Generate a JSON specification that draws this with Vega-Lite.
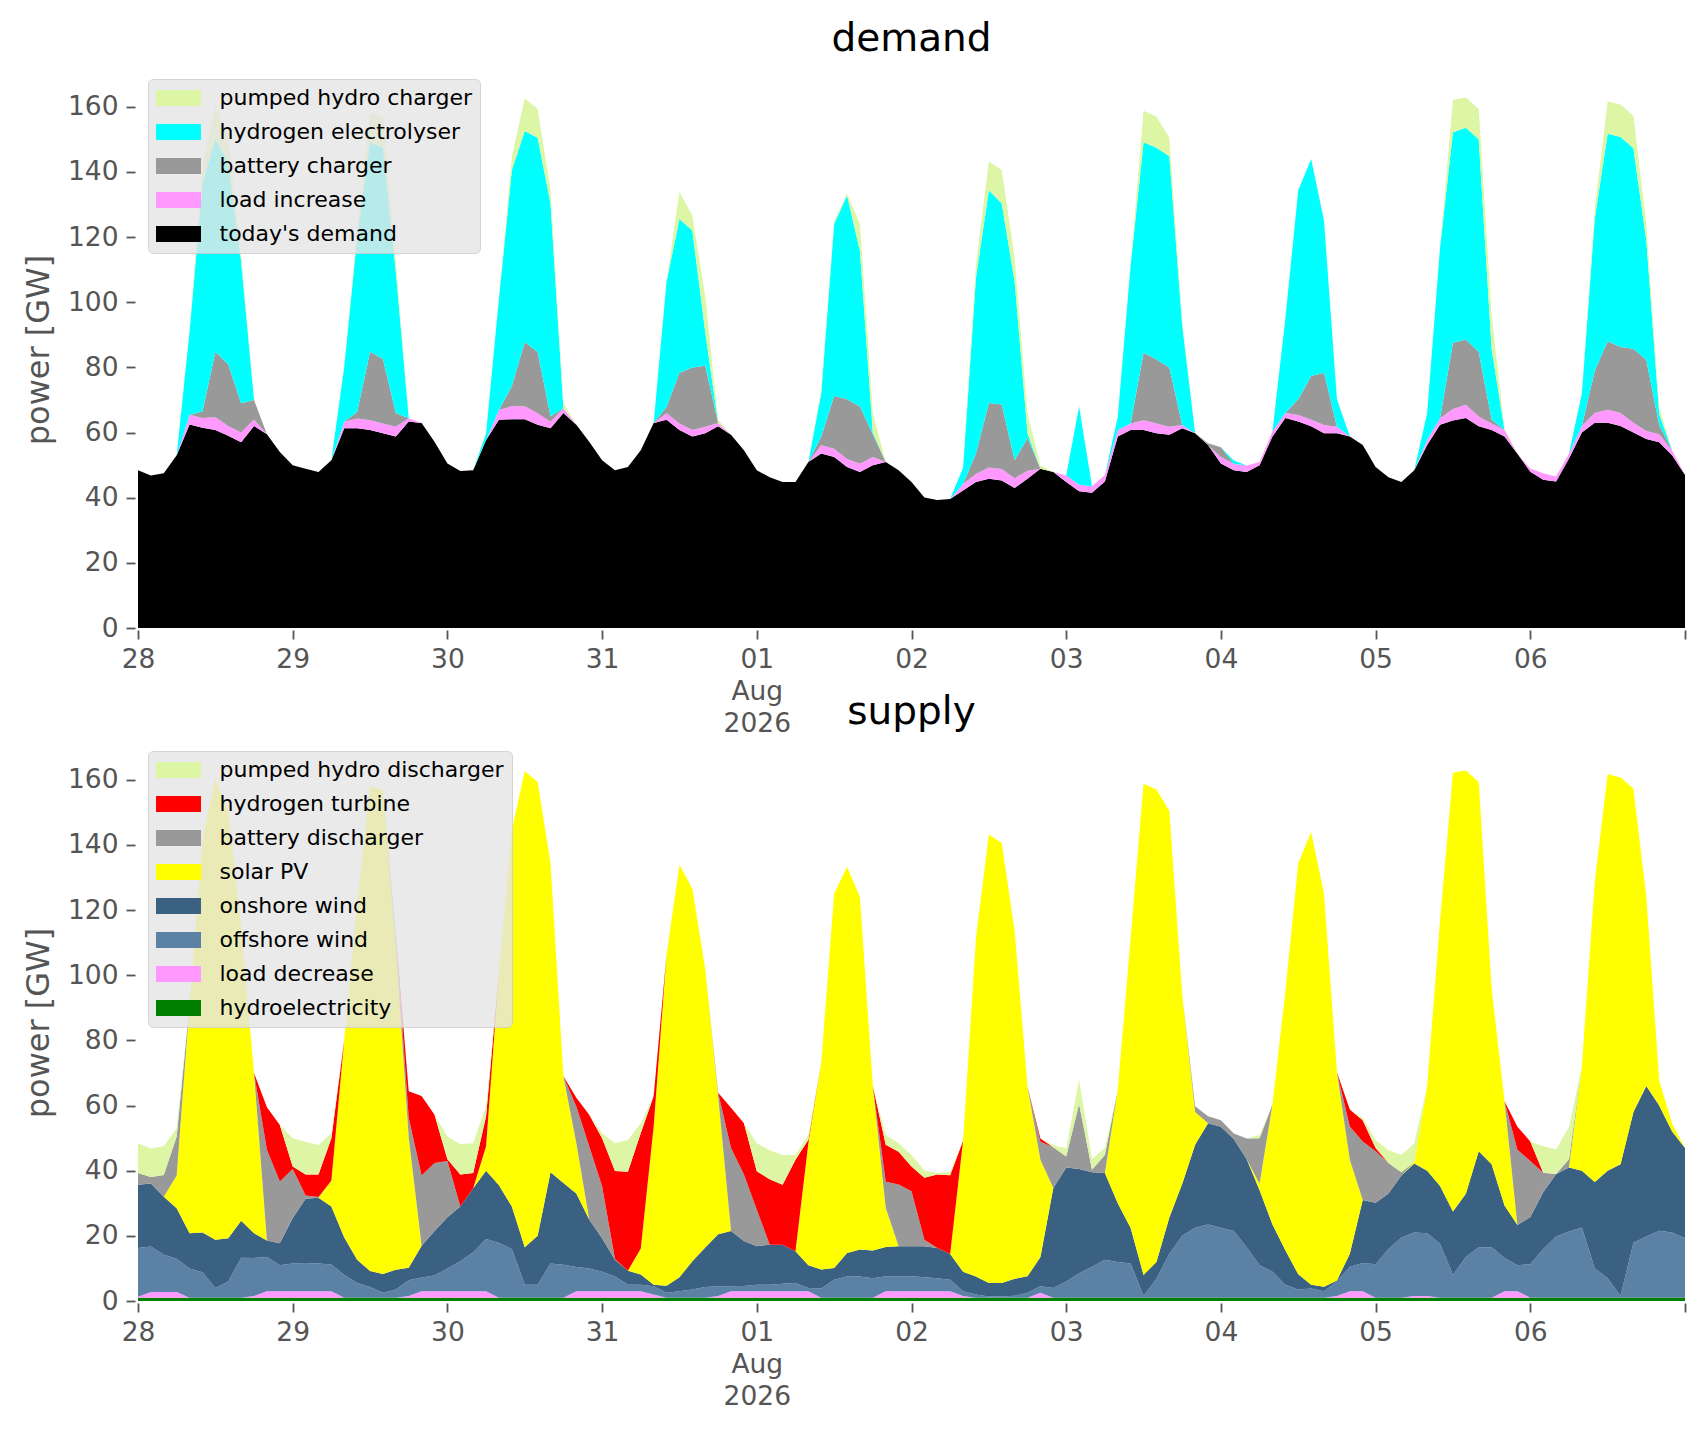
{
  "$schema": "https://vega.github.io/schema/vega-lite/v6.json",
  "background": "white",
  "padding": {"left": 22, "top": 20, "right": 21, "bottom": 24},
  "datasets": {
    "demand": [
      {"t":"2026-07-28T00:00","a":48.4,"b":0,"c":0,"d":0,"e":0},
      {"t":"2026-07-28T02:00","a":46.8,"b":0,"c":0,"d":0,"e":0},
      {"t":"2026-07-28T04:00","a":47.5,"b":0,"c":0,"d":0,"e":0},
      {"t":"2026-07-28T06:00","a":53,"b":0,"c":0,"d":0,"e":0},
      {"t":"2026-07-28T08:00","a":62.5,"b":3,"c":0,"d":25.5,"e":0},
      {"t":"2026-07-28T10:00","a":61.5,"b":3,"c":2,"d":70,"e":5},
      {"t":"2026-07-28T12:00","a":60.8,"b":3.9,"c":20,"d":65.6,"e":10},
      {"t":"2026-07-28T14:00","a":59,"b":3,"c":19,"d":61.7,"e":8},
      {"t":"2026-07-28T16:00","a":57,"b":3,"c":9,"d":43.6,"e":2},
      {"t":"2026-07-28T18:00","a":62,"b":2,"c":6,"d":0,"e":0},
      {"t":"2026-07-28T20:00","a":59.5,"b":0,"c":0,"d":0,"e":0},
      {"t":"2026-07-28T22:00","a":54,"b":0,"c":0,"d":0,"e":0},
      {"t":"2026-07-29T00:00","a":50,"b":0,"c":0,"d":0,"e":0},
      {"t":"2026-07-29T02:00","a":48.9,"b":0,"c":0,"d":0,"e":0},
      {"t":"2026-07-29T04:00","a":47.9,"b":0,"c":0,"d":0,"e":0},
      {"t":"2026-07-29T06:00","a":51.5,"b":0,"c":0,"d":0,"e":0},
      {"t":"2026-07-29T08:00","a":61.3,"b":2,"c":0,"d":17,"e":0},
      {"t":"2026-07-29T10:00","a":61.3,"b":3,"c":2,"d":53.7,"e":2},
      {"t":"2026-07-29T12:00","a":60.8,"b":3,"c":21,"d":64.3,"e":9},
      {"t":"2026-07-29T14:00","a":59.8,"b":3,"c":19.8,"d":64.8,"e":9.3},
      {"t":"2026-07-29T16:00","a":58.8,"b":3,"c":4.2,"d":43.5,"e":3},
      {"t":"2026-07-29T18:00","a":63.4,"b":1,"c":0,"d":0,"e":0},
      {"t":"2026-07-29T20:00","a":62.9,"b":0,"c":0,"d":0,"e":0},
      {"t":"2026-07-29T22:00","a":57.2,"b":0,"c":0,"d":0,"e":0},
      {"t":"2026-07-30T00:00","a":50.5,"b":0,"c":0,"d":0,"e":0},
      {"t":"2026-07-30T02:00","a":48.2,"b":0,"c":0,"d":0,"e":0},
      {"t":"2026-07-30T04:00","a":48.4,"b":0,"c":0,"d":0,"e":0},
      {"t":"2026-07-30T06:00","a":57.7,"b":0,"c":0,"d":2,"e":0},
      {"t":"2026-07-30T08:00","a":63.9,"b":3,"c":0,"d":34.3,"e":0},
      {"t":"2026-07-30T10:00","a":64.1,"b":4,"c":6.2,"d":66.3,"e":4},
      {"t":"2026-07-30T12:00","a":64.1,"b":4,"c":19.7,"d":64.8,"e":10},
      {"t":"2026-07-30T14:00","a":62.4,"b":3.5,"c":18.8,"d":65.8,"e":8.8},
      {"t":"2026-07-30T16:00","a":61.3,"b":2,"c":1.7,"d":65.3,"e":4},
      {"t":"2026-07-30T18:00","a":66,"b":1.5,"c":0,"d":0,"e":1.5},
      {"t":"2026-07-30T20:00","a":62.4,"b":0,"c":0,"d":0,"e":0},
      {"t":"2026-07-30T22:00","a":57.2,"b":0,"c":0,"d":0,"e":0},
      {"t":"2026-07-31T00:00","a":51.5,"b":0,"c":0,"d":0,"e":0},
      {"t":"2026-07-31T02:00","a":48.4,"b":0,"c":0,"d":0,"e":0},
      {"t":"2026-07-31T04:00","a":49.4,"b":0,"c":0,"d":0,"e":0},
      {"t":"2026-07-31T06:00","a":54.6,"b":0,"c":0,"d":0,"e":0},
      {"t":"2026-07-31T08:00","a":62.9,"b":0,"c":0,"d":0,"e":0},
      {"t":"2026-07-31T10:00","a":63.9,"b":2,"c":2,"d":38.5,"e":0},
      {"t":"2026-07-31T12:00","a":60.8,"b":2,"c":15.6,"d":47.2,"e":8.3},
      {"t":"2026-07-31T14:00","a":58.8,"b":2,"c":19.2,"d":42,"e":4.6},
      {"t":"2026-07-31T16:00","a":59.8,"b":2,"c":18.7,"d":10.4,"e":11},
      {"t":"2026-07-31T18:00","a":61.9,"b":1,"c":0,"d":0,"e":1},
      {"t":"2026-07-31T20:00","a":59.3,"b":0,"c":0,"d":0,"e":0},
      {"t":"2026-07-31T22:00","a":54.6,"b":0,"c":0,"d":0,"e":0},
      {"t":"2026-08-01T00:00","a":48.4,"b":0,"c":0,"d":0,"e":0},
      {"t":"2026-08-01T02:00","a":46.3,"b":0,"c":0,"d":0,"e":0},
      {"t":"2026-08-01T04:00","a":44.8,"b":0,"c":0,"d":0,"e":0},
      {"t":"2026-08-01T06:00","a":44.8,"b":0,"c":0,"d":0,"e":0},
      {"t":"2026-08-01T08:00","a":51,"b":0,"c":0,"d":0,"e":0},
      {"t":"2026-08-01T10:00","a":53.6,"b":2.5,"c":2.7,"d":13.4,"e":1},
      {"t":"2026-08-01T12:00","a":52.5,"b":2.5,"c":16.2,"d":52.8,"e":1},
      {"t":"2026-08-01T14:00","a":49.4,"b":2.5,"c":18.3,"d":62.6,"e":0.5},
      {"t":"2026-08-01T16:00","a":47.9,"b":2.5,"c":17.6,"d":47.8,"e":8.2},
      {"t":"2026-08-01T18:00","a":50,"b":2.5,"c":7,"d":0.5,"e":6},
      {"t":"2026-08-01T20:00","a":51,"b":0,"c":0,"d":0,"e":0},
      {"t":"2026-08-01T22:00","a":48.4,"b":0,"c":0,"d":0,"e":0},
      {"t":"2026-08-02T00:00","a":44.8,"b":0,"c":0,"d":0,"e":0},
      {"t":"2026-08-02T02:00","a":40.1,"b":0,"c":0,"d":0,"e":0},
      {"t":"2026-08-02T04:00","a":39.3,"b":0,"c":0,"d":0,"e":0},
      {"t":"2026-08-02T06:00","a":39.6,"b":0,"c":0,"d":0,"e":0},
      {"t":"2026-08-02T08:00","a":42.2,"b":2,"c":0,"d":5,"e":0},
      {"t":"2026-08-02T10:00","a":44.8,"b":2.5,"c":6.3,"d":53.9,"e":4},
      {"t":"2026-08-02T12:00","a":45.8,"b":3.5,"c":19.8,"d":65.3,"e":8.8},
      {"t":"2026-08-02T14:00","a":45.3,"b":3.5,"c":19.8,"d":61.7,"e":10.3},
      {"t":"2026-08-02T16:00","a":43,"b":3,"c":5.5,"d":54.9,"e":7.3},
      {"t":"2026-08-02T18:00","a":45.8,"b":2.5,"c":10,"d":1.5,"e":6},
      {"t":"2026-08-02T20:00","a":48.9,"b":0,"c":0,"d":0,"e":1},
      {"t":"2026-08-02T22:00","a":47.9,"b":0,"c":0,"d":0,"e":0},
      {"t":"2026-08-03T00:00","a":44.8,"b":2,"c":0,"d":0,"e":0},
      {"t":"2026-08-03T02:00","a":42,"b":2,"c":0,"d":24,"e":0},
      {"t":"2026-08-03T04:00","a":41.5,"b":2,"c":0,"d":0,"e":0},
      {"t":"2026-08-03T06:00","a":45,"b":2,"c":0,"d":0,"e":0},
      {"t":"2026-08-03T08:00","a":58.8,"b":2,"c":0,"d":4,"e":0},
      {"t":"2026-08-03T10:00","a":60.8,"b":2,"c":0,"d":48.7,"e":0},
      {"t":"2026-08-03T12:00","a":60.8,"b":3,"c":20.7,"d":64.6,"e":9.7},
      {"t":"2026-08-03T14:00","a":59.8,"b":3,"c":19.6,"d":65,"e":9.6},
      {"t":"2026-08-03T16:00","a":59.3,"b":2.5,"c":18.2,"d":64.8,"e":5.7},
      {"t":"2026-08-03T18:00","a":61.3,"b":1,"c":0,"d":30.6,"e":1},
      {"t":"2026-08-03T20:00","a":59.8,"b":0,"c":0,"d":0,"e":0},
      {"t":"2026-08-03T22:00","a":56.2,"b":0,"c":0.5,"d":0,"e":0},
      {"t":"2026-08-04T00:00","a":50.5,"b":2,"c":3,"d":0,"e":0},
      {"t":"2026-08-04T02:00","a":48.4,"b":2,"c":0,"d":1,"e":0},
      {"t":"2026-08-04T04:00","a":47.9,"b":2,"c":0,"d":0,"e":0},
      {"t":"2026-08-04T06:00","a":50,"b":1,"c":0,"d":0,"e":0},
      {"t":"2026-08-04T08:00","a":58.8,"b":1.5,"c":0,"d":0,"e":0},
      {"t":"2026-08-04T10:00","a":64.5,"b":1.5,"c":0,"d":29,"e":0},
      {"t":"2026-08-04T12:00","a":63.4,"b":2,"c":4.8,"d":64.2,"e":0},
      {"t":"2026-08-04T14:00","a":61.9,"b":2,"c":13.5,"d":66.6,"e":0},
      {"t":"2026-08-04T16:00","a":59.8,"b":2.5,"c":16.1,"d":46.6,"e":0},
      {"t":"2026-08-04T18:00","a":59.8,"b":2,"c":0,"d":8.4,"e":0},
      {"t":"2026-08-04T20:00","a":58.8,"b":0,"c":0,"d":0,"e":0},
      {"t":"2026-08-04T22:00","a":56.2,"b":0,"c":0,"d":0,"e":0},
      {"t":"2026-08-05T00:00","a":49.4,"b":0,"c":0,"d":0,"e":0},
      {"t":"2026-08-05T02:00","a":46.3,"b":0,"c":0,"d":0,"e":0},
      {"t":"2026-08-05T04:00","a":44.8,"b":0,"c":0,"d":0,"e":0},
      {"t":"2026-08-05T06:00","a":48.4,"b":0,"c":0,"d":0,"e":0},
      {"t":"2026-08-05T08:00","a":56.2,"b":1.5,"c":0,"d":8.3,"e":0},
      {"t":"2026-08-05T10:00","a":62.4,"b":2,"c":0,"d":52.4,"e":0},
      {"t":"2026-08-05T12:00","a":63.7,"b":3.5,"c":20.4,"d":64.6,"e":10},
      {"t":"2026-08-05T14:00","a":64.5,"b":4,"c":20.1,"d":65,"e":9.3},
      {"t":"2026-08-05T16:00","a":61.9,"b":3,"c":19.8,"d":65.3,"e":9.3},
      {"t":"2026-08-05T18:00","a":60.8,"b":2,"c":1.2,"d":21.7,"e":10.3},
      {"t":"2026-08-05T20:00","a":58.8,"b":2,"c":0,"d":0,"e":0.5},
      {"t":"2026-08-05T22:00","a":53.5,"b":0,"c":0,"d":0,"e":0},
      {"t":"2026-08-06T00:00","a":48,"b":1,"c":0,"d":0,"e":0},
      {"t":"2026-08-06T02:00","a":45.5,"b":2,"c":0,"d":0,"e":0},
      {"t":"2026-08-06T04:00","a":45,"b":1.5,"c":0,"d":0,"e":0},
      {"t":"2026-08-06T06:00","a":52,"b":1.5,"c":0,"d":0,"e":0},
      {"t":"2026-08-06T08:00","a":60,"b":2,"c":0,"d":10,"e":0},
      {"t":"2026-08-06T10:00","a":63,"b":3,"c":13,"d":46.7,"e":3},
      {"t":"2026-08-06T12:00","a":63,"b":4,"c":21,"d":63.7,"e":10},
      {"t":"2026-08-06T14:00","a":62,"b":4,"c":20.3,"d":64.4,"e":10},
      {"t":"2026-08-06T16:00","a":60,"b":3,"c":22.7,"d":61.6,"e":10},
      {"t":"2026-08-06T18:00","a":58,"b":2.5,"c":21.8,"d":36.7,"e":5},
      {"t":"2026-08-06T20:00","a":57,"b":2.5,"c":2.8,"d":3.4,"e":2},
      {"t":"2026-08-06T22:00","a":53,"b":1.5,"c":0,"d":0,"e":0},
      {"t":"2026-08-07T00:00","a":47,"b":0,"c":0,"d":0,"e":0}
    ],
    "supply": [
      {"t":"2026-07-28T00:00","a":1,"b":0.3,"c":15,"d":19.4,"e":0,"f":3.6,"g":0,"h":9.1},
      {"t":"2026-07-28T02:00","a":1,"b":1.8,"c":13.9,"d":19.4,"e":0,"f":2,"g":0,"h":8.7},
      {"t":"2026-07-28T04:00","a":1,"b":1.8,"c":11.4,"d":17.8,"e":0,"f":6.7,"g":0,"h":8.8},
      {"t":"2026-07-28T06:00","a":1,"b":1.8,"c":10.2,"d":15.5,"e":10,"f":12,"g":0,"h":2.5},
      {"t":"2026-07-28T08:00","a":1,"b":0,"c":9,"d":10.8,"e":70.2,"f":0,"g":0,"h":0},
      {"t":"2026-07-28T10:00","a":1,"b":0,"c":7.8,"d":12.2,"e":120.5,"f":0,"g":0,"h":0},
      {"t":"2026-07-28T12:00","a":1,"b":0,"c":3,"d":14.8,"e":141.5,"f":0,"g":0,"h":0},
      {"t":"2026-07-28T14:00","a":1,"b":0,"c":5,"d":13.3,"e":131.4,"f":0,"g":0,"h":0},
      {"t":"2026-07-28T16:00","a":1,"b":0,"c":12.3,"d":11.3,"e":90,"f":0,"g":0,"h":0},
      {"t":"2026-07-28T18:00","a":1,"b":0.5,"c":11.7,"d":7.6,"e":49.2,"f":0,"g":0,"h":0},
      {"t":"2026-07-28T20:00","a":1,"b":2,"c":10.5,"d":5.1,"e":0,"f":27.8,"g":13.1,"h":0},
      {"t":"2026-07-28T22:00","a":1,"b":2,"c":8,"d":6.7,"e":0,"f":19,"g":17.3,"h":0},
      {"t":"2026-07-29T00:00","a":1,"b":2,"c":8.5,"d":14,"e":0,"f":15,"g":0.8,"h":8.7},
      {"t":"2026-07-29T02:00","a":1,"b":2,"c":8.7,"d":19.7,"e":0,"f":1,"g":6.4,"h":10.1},
      {"t":"2026-07-29T04:00","a":1,"b":2,"c":8.5,"d":20.2,"e":0,"f":0.2,"g":6.9,"h":9.1},
      {"t":"2026-07-29T06:00","a":1,"b":2,"c":8.2,"d":17.8,"e":8,"f":0,"g":13,"h":1.5},
      {"t":"2026-07-29T08:00","a":1,"b":0,"c":7,"d":11.5,"e":60.8,"f":0,"g":0,"h":0},
      {"t":"2026-07-29T10:00","a":1,"b":0,"c":4.5,"d":7.2,"e":109.3,"f":0,"g":0,"h":0},
      {"t":"2026-07-29T12:00","a":1,"b":0,"c":3.3,"d":4.9,"e":148.9,"f":0,"g":0,"h":0},
      {"t":"2026-07-29T14:00","a":1,"b":0,"c":1.5,"d":5.8,"e":148.4,"f":0,"g":0,"h":0},
      {"t":"2026-07-29T16:00","a":1,"b":0,"c":2.5,"d":6.1,"e":99,"f":3.9,"g":0,"h":0},
      {"t":"2026-07-29T18:00","a":1,"b":0.5,"c":4.9,"d":3.8,"e":40,"f":6,"g":8.2,"h":0},
      {"t":"2026-07-29T20:00","a":1,"b":2,"c":4.2,"d":9.8,"e":0,"f":21.5,"g":24.4,"h":0},
      {"t":"2026-07-29T22:00","a":1,"b":2,"c":4.8,"d":13.7,"e":0,"f":20.9,"g":14.8,"h":0},
      {"t":"2026-07-30T00:00","a":1,"b":2,"c":7,"d":15.7,"e":0,"f":17.3,"g":0.5,"h":7},
      {"t":"2026-07-30T02:00","a":1,"b":2,"c":9.2,"d":16.8,"e":0,"f":0,"g":9.8,"h":9.4},
      {"t":"2026-07-30T04:00","a":1,"b":2,"c":12,"d":19.6,"e":0,"f":0,"g":4.7,"h":9.1},
      {"t":"2026-07-30T06:00","a":1,"b":2,"c":16,"d":21,"e":7.5,"f":0,"g":9.2,"h":3},
      {"t":"2026-07-30T08:00","a":1,"b":0,"c":16.8,"d":17.7,"e":65.7,"f":0,"g":0,"h":0},
      {"t":"2026-07-30T10:00","a":1,"b":0,"c":15,"d":13,"e":115.6,"f":0,"g":0,"h":0},
      {"t":"2026-07-30T12:00","a":1,"b":0,"c":4,"d":11.5,"e":146.1,"f":0,"g":0,"h":0},
      {"t":"2026-07-30T14:00","a":1,"b":0,"c":4,"d":15,"e":139.3,"f":0,"g":0,"h":0},
      {"t":"2026-07-30T16:00","a":1,"b":0,"c":10.5,"d":28,"e":94.8,"f":0,"g":0,"h":0},
      {"t":"2026-07-30T18:00","a":1,"b":0,"c":10.1,"d":25.1,"e":32.8,"f":0,"g":0,"h":0},
      {"t":"2026-07-30T20:00","a":1,"b":2,"c":7.4,"d":22.6,"e":15.5,"f":11.2,"g":2.7,"h":0},
      {"t":"2026-07-30T22:00","a":1,"b":2,"c":7,"d":15,"e":0,"f":22.5,"g":9.7,"h":0},
      {"t":"2026-07-31T00:00","a":1,"b":2,"c":6,"d":10.3,"e":0,"f":15.9,"g":14.8,"h":1.5},
      {"t":"2026-07-31T02:00","a":1,"b":2,"c":4.5,"d":5.2,"e":0,"f":0.2,"g":27,"h":8.5},
      {"t":"2026-07-31T04:00","a":1,"b":2,"c":2,"d":4.3,"e":0,"f":0,"g":30.4,"h":9.7},
      {"t":"2026-07-31T06:00","a":1,"b":2,"c":2,"d":3.1,"e":8,"f":0,"g":35.5,"h":3},
      {"t":"2026-07-31T08:00","a":1,"b":1,"c":2.5,"d":0.5,"e":48.6,"f":0,"g":9.3,"h":0},
      {"t":"2026-07-31T10:00","a":1,"b":0,"c":1.5,"d":2.2,"e":101.7,"f":0,"g":0,"h":0},
      {"t":"2026-07-31T12:00","a":1,"b":0,"c":2,"d":4.3,"e":126.6,"f":0,"g":0,"h":0},
      {"t":"2026-07-31T14:00","a":1,"b":0,"c":2.5,"d":8.7,"e":114.4,"f":0,"g":0,"h":0},
      {"t":"2026-07-31T16:00","a":1,"b":0,"c":3.3,"d":12.1,"e":85.5,"f":0,"g":0,"h":0},
      {"t":"2026-07-31T18:00","a":1,"b":0.5,"c":3,"d":16,"e":42.4,"f":1,"g":0,"h":0},
      {"t":"2026-07-31T20:00","a":1,"b":2,"c":1.5,"d":17,"e":0,"f":25.5,"g":12.3,"h":0},
      {"t":"2026-07-31T22:00","a":1,"b":2,"c":1.6,"d":13.8,"e":0,"f":20.4,"g":15.8,"h":0},
      {"t":"2026-08-01T00:00","a":1,"b":2,"c":2,"d":11.8,"e":0,"f":11.2,"g":11.8,"h":8.6},
      {"t":"2026-08-01T02:00","a":1,"b":2,"c":2,"d":12.3,"e":0,"f":0,"g":20.1,"h":8.9},
      {"t":"2026-08-01T04:00","a":1,"b":2,"c":2.3,"d":12,"e":0,"f":0,"g":18.4,"h":9.1},
      {"t":"2026-08-01T06:00","a":1,"b":2,"c":2.5,"d":9.8,"e":0,"f":0,"g":28.1,"h":1.4},
      {"t":"2026-08-01T08:00","a":1,"b":2,"c":1,"d":7,"e":37.5,"f":0,"g":1,"h":1.5},
      {"t":"2026-08-01T10:00","a":1,"b":0,"c":2.8,"d":5.9,"e":63.5,"f":0,"g":0,"h":0},
      {"t":"2026-08-01T12:00","a":1,"b":0,"c":5.5,"d":3.6,"e":114.9,"f":0,"g":0,"h":0},
      {"t":"2026-08-01T14:00","a":1,"b":0,"c":6.5,"d":7.2,"e":118.6,"f":0,"g":0,"h":0},
      {"t":"2026-08-01T16:00","a":1,"b":0,"c":6.5,"d":8.3,"e":108.2,"f":0,"g":0,"h":0},
      {"t":"2026-08-01T18:00","a":1,"b":0,"c":6,"d":8.5,"e":50.5,"f":0,"g":0,"h":0},
      {"t":"2026-08-01T20:00","a":1,"b":2,"c":4.6,"d":9,"e":12,"f":8,"g":11.4,"h":3},
      {"t":"2026-08-01T22:00","a":1,"b":2,"c":4.6,"d":9.2,"e":0,"f":19,"g":10,"h":2.6},
      {"t":"2026-08-02T00:00","a":1,"b":2,"c":4.6,"d":9.2,"e":0,"f":16.9,"g":7.6,"h":3.5},
      {"t":"2026-08-02T02:00","a":1,"b":2,"c":4.3,"d":9.5,"e":0,"f":2,"g":19,"h":2.3},
      {"t":"2026-08-02T04:00","a":1,"b":2,"c":4,"d":9.3,"e":0,"f":0,"g":22.5,"h":0.5},
      {"t":"2026-08-02T06:00","a":1,"b":2,"c":3.5,"d":7.9,"e":0,"f":0,"g":24.2,"h":1},
      {"t":"2026-08-02T08:00","a":1,"b":0.5,"c":1.5,"d":6,"e":40.2,"f":0,"g":0,"h":0},
      {"t":"2026-08-02T10:00","a":1,"b":0,"c":1,"d":5.5,"e":104,"f":0,"g":0,"h":0},
      {"t":"2026-08-02T12:00","a":1,"b":0,"c":0.4,"d":4.1,"e":137.7,"f":0,"g":0,"h":0},
      {"t":"2026-08-02T14:00","a":1,"b":0,"c":0.4,"d":4.1,"e":135.1,"f":0,"g":0,"h":0},
      {"t":"2026-08-02T16:00","a":1,"b":0,"c":0.6,"d":5.2,"e":106.9,"f":0,"g":0,"h":0},
      {"t":"2026-08-02T18:00","a":1,"b":0,"c":1.5,"d":5.1,"e":58.2,"f":0,"g":0,"h":0},
      {"t":"2026-08-02T20:00","a":1,"b":1.5,"c":2,"d":9,"e":29.9,"f":5.5,"g":1,"h":0},
      {"t":"2026-08-02T22:00","a":1,"b":0,"c":3,"d":30.7,"e":0,"f":12.5,"g":0,"h":0.7},
      {"t":"2026-08-03T00:00","a":1,"b":0,"c":5,"d":35,"e":0,"f":3.4,"g":0,"h":2.4},
      {"t":"2026-08-03T02:00","a":1,"b":0,"c":7.5,"d":32,"e":0,"f":20,"g":0,"h":7.5},
      {"t":"2026-08-03T04:00","a":1,"b":0,"c":9.5,"d":29,"e":0,"f":0.8,"g":0,"h":3.2},
      {"t":"2026-08-03T06:00","a":1,"b":0,"c":11.7,"d":26.6,"e":0,"f":5.5,"g":0,"h":2.2},
      {"t":"2026-08-03T08:00","a":1,"b":0,"c":11,"d":18,"e":34.8,"f":0,"g":0,"h":0},
      {"t":"2026-08-03T10:00","a":1,"b":0,"c":10.5,"d":10.9,"e":89.1,"f":0,"g":0,"h":0},
      {"t":"2026-08-03T12:00","a":1,"b":0,"c":0.5,"d":6.5,"e":150.8,"f":0,"g":0,"h":0},
      {"t":"2026-08-03T14:00","a":1,"b":0,"c":5.8,"d":5.2,"e":145,"f":0,"g":0,"h":0},
      {"t":"2026-08-03T16:00","a":1,"b":0,"c":13.5,"d":11.1,"e":124.9,"f":0,"g":0,"h":0},
      {"t":"2026-08-03T18:00","a":1,"b":0,"c":19,"d":16,"e":57.9,"f":0,"g":0,"h":0},
      {"t":"2026-08-03T20:00","a":1,"b":0,"c":21.5,"d":25.5,"e":10,"f":1.8,"g":0,"h":0},
      {"t":"2026-08-03T22:00","a":1,"b":0,"c":22.5,"d":31.1,"e":0,"f":2.1,"g":0,"h":0},
      {"t":"2026-08-04T00:00","a":1,"b":0,"c":21.5,"d":31,"e":0,"f":2,"g":0,"h":0},
      {"t":"2026-08-04T02:00","a":1,"b":0,"c":20.5,"d":28.2,"e":0,"f":1.7,"g":0,"h":0},
      {"t":"2026-08-04T04:00","a":1,"b":0,"c":15.5,"d":27,"e":0,"f":6.4,"g":0,"h":0},
      {"t":"2026-08-04T06:00","a":1,"b":0,"c":10,"d":23,"e":2,"f":14,"g":0,"h":1},
      {"t":"2026-08-04T08:00","a":1,"b":0,"c":8,"d":14.5,"e":36.8,"f":0,"g":0,"h":0},
      {"t":"2026-08-04T10:00","a":1,"b":0,"c":4,"d":10.6,"e":79.4,"f":0,"g":0,"h":0},
      {"t":"2026-08-04T12:00","a":1,"b":0,"c":2.5,"d":4.7,"e":126.2,"f":0,"g":0,"h":0},
      {"t":"2026-08-04T14:00","a":1,"b":0,"c":2.8,"d":1.2,"e":139,"f":0,"g":0,"h":0},
      {"t":"2026-08-04T16:00","a":1,"b":0,"c":2,"d":1.4,"e":120.6,"f":0,"g":0,"h":0},
      {"t":"2026-08-04T18:00","a":1,"b":0.5,"c":4.5,"d":0.3,"e":63.9,"f":0,"g":0,"h":0},
      {"t":"2026-08-04T20:00","a":1,"b":2,"c":7.5,"d":4,"e":28.9,"f":10.2,"g":5.2,"h":0},
      {"t":"2026-08-04T22:00","a":1,"b":2,"c":8.7,"d":19.3,"e":0,"f":18,"g":6.5,"h":0.7},
      {"t":"2026-08-05T00:00","a":1,"b":0,"c":10.3,"d":18.9,"e":0,"f":15.8,"g":1,"h":2.4},
      {"t":"2026-08-05T02:00","a":1,"b":0,"c":15,"d":17,"e":0,"f":9.4,"g":0,"h":3.9},
      {"t":"2026-08-05T04:00","a":1,"b":0,"c":18.5,"d":19,"e":0,"f":1,"g":0,"h":5.3},
      {"t":"2026-08-05T06:00","a":1,"b":0.5,"c":19.5,"d":21.2,"e":0.5,"f":0,"g":0,"h":5.7},
      {"t":"2026-08-05T08:00","a":1,"b":0.5,"c":19.3,"d":19.2,"e":26,"f":0,"g":0,"h":0},
      {"t":"2026-08-05T10:00","a":1,"b":0,"c":16.6,"d":17.7,"e":81.5,"f":0,"g":0,"h":0},
      {"t":"2026-08-05T12:00","a":1,"b":0,"c":7,"d":19.5,"e":134.7,"f":0,"g":0,"h":0},
      {"t":"2026-08-05T14:00","a":1,"b":0,"c":12.5,"d":19.4,"e":130,"f":0,"g":0,"h":0},
      {"t":"2026-08-05T16:00","a":1,"b":0,"c":15.5,"d":29.5,"e":113.3,"f":0,"g":0,"h":0},
      {"t":"2026-08-05T18:00","a":1,"b":0,"c":15.5,"d":25.5,"e":54,"f":0,"g":0,"h":0},
      {"t":"2026-08-05T20:00","a":1,"b":2,"c":10.2,"d":16.1,"e":32,"f":0,"g":0,"h":0},
      {"t":"2026-08-05T22:00","a":1,"b":2,"c":8,"d":12.3,"e":0,"f":23.1,"g":7.1,"h":0},
      {"t":"2026-08-06T00:00","a":1,"b":0,"c":10.3,"d":14.5,"e":0,"f":17.2,"g":6,"h":0},
      {"t":"2026-08-06T02:00","a":1,"b":0,"c":15,"d":17.4,"e":0,"f":6,"g":0,"h":8.1},
      {"t":"2026-08-06T04:00","a":1,"b":0,"c":18.8,"d":19.2,"e":0,"f":0,"g":0,"h":7.5},
      {"t":"2026-08-06T06:00","a":1,"b":0,"c":20.3,"d":19.7,"e":0,"f":2.5,"g":0,"h":10},
      {"t":"2026-08-06T08:00","a":1,"b":0,"c":21.6,"d":17.4,"e":32,"f":0,"g":0,"h":0},
      {"t":"2026-08-06T10:00","a":1,"b":0,"c":9,"d":26.5,"e":92.2,"f":0,"g":0,"h":0},
      {"t":"2026-08-06T12:00","a":1,"b":0,"c":6,"d":33,"e":121.7,"f":0,"g":0,"h":0},
      {"t":"2026-08-06T14:00","a":1,"b":0,"c":0.5,"d":40.5,"e":118.7,"f":0,"g":0,"h":0},
      {"t":"2026-08-06T16:00","a":1,"b":0,"c":16.9,"d":40.1,"e":99.3,"f":0,"g":0,"h":0},
      {"t":"2026-08-06T18:00","a":1,"b":0,"c":18.8,"d":46.2,"e":58,"f":0,"g":0,"h":0},
      {"t":"2026-08-06T20:00","a":1,"b":0,"c":20.6,"d":38.4,"e":7.7,"f":0,"g":0,"h":0},
      {"t":"2026-08-06T22:00","a":1,"b":0,"c":20,"d":31,"e":2.5,"f":0,"g":0,"h":0},
      {"t":"2026-08-07T00:00","a":1,"b":0,"c":18.3,"d":27.7,"e":0,"f":0,"g":0,"h":0}
    ]
  },
  "vconcat": [
    {
      "width": 1547,
      "height": 557,
      "title": "demand",
      "data": {"name": "demand"},
      "transform": [{"fold": ["a", "b", "c", "d", "e"], "as": ["s", "v"]}],
      "mark": {"type": "area", "interpolate": "linear", "opacity": 1},
      "encoding": {
        "x": {
          "field": "t",
          "type": "temporal",
          "scale": {"domain": [{"year": 2026, "month": "jul", "date": 28}, {"year": 2026, "month": "aug", "date": 7}], "nice": false},
          "axis": {
            "values": [
              {"year": 2026, "month": "jul", "date": 28}, {"year": 2026, "month": "jul", "date": 29},
              {"year": 2026, "month": "jul", "date": 30}, {"year": 2026, "month": "jul", "date": 31},
              {"year": 2026, "month": "aug", "date": 1}, {"year": 2026, "month": "aug", "date": 2},
              {"year": 2026, "month": "aug", "date": 3}, {"year": 2026, "month": "aug", "date": 4},
              {"year": 2026, "month": "aug", "date": 5}, {"year": 2026, "month": "aug", "date": 6},
              {"year": 2026, "month": "aug", "date": 7}
            ],
            "labelExpr": "month(datum.value) == 7 && date(datum.value) == 7 ? '' : (date(datum.value) == 1 ? ['01', 'Aug', '2026'] : timeFormat(datum.value, '%d'))"
          }
        },
        "y": {
          "field": "v",
          "type": "quantitative",
          "stack": "zero",
          "scale": {"domain": [0, 171], "nice": false},
          "axis": {"title": "power [GW]", "values": [0, 20, 40, 60, 80, 100, 120, 140, 160], "titleY": 278.5}
        },
        "color": {
          "field": "s",
          "type": "nominal",
          "scale": {"domain": ["e", "d", "c", "b", "a"], "range": ["#dcf6a6", "#00ffff", "#999999", "#ff99ff", "#000000"]},
          "legend": {
            "orient": "none", "legendX": 10, "legendY": 8,
            "labelExpr": "datum.label == 'a' ? \"today's demand\" : datum.label == 'b' ? 'load increase' : datum.label == 'c' ? 'battery charger' : datum.label == 'd' ? 'hydrogen electrolyser' : 'pumped hydro charger'"
          }
        },
        "order": {"field": "s", "type": "ordinal", "sort": "ascending"}
      }
    },
    {
      "width": 1547,
      "height": 557,
      "title": "supply",
      "data": {"name": "supply"},
      "transform": [{"fold": ["a", "b", "c", "d", "e", "f", "g", "h"], "as": ["s", "v"]}],
      "mark": {"type": "area", "interpolate": "linear", "opacity": 1},
      "encoding": {
        "x": {
          "field": "t",
          "type": "temporal",
          "scale": {"domain": [{"year": 2026, "month": "jul", "date": 28}, {"year": 2026, "month": "aug", "date": 7}], "nice": false},
          "axis": {
            "values": [
              {"year": 2026, "month": "jul", "date": 28}, {"year": 2026, "month": "jul", "date": 29},
              {"year": 2026, "month": "jul", "date": 30}, {"year": 2026, "month": "jul", "date": 31},
              {"year": 2026, "month": "aug", "date": 1}, {"year": 2026, "month": "aug", "date": 2},
              {"year": 2026, "month": "aug", "date": 3}, {"year": 2026, "month": "aug", "date": 4},
              {"year": 2026, "month": "aug", "date": 5}, {"year": 2026, "month": "aug", "date": 6},
              {"year": 2026, "month": "aug", "date": 7}
            ],
            "labelExpr": "month(datum.value) == 7 && date(datum.value) == 7 ? '' : (date(datum.value) == 1 ? ['01', 'Aug', '2026'] : timeFormat(datum.value, '%d'))"
          }
        },
        "y": {
          "field": "v",
          "type": "quantitative",
          "stack": "zero",
          "scale": {"domain": [0, 171], "nice": false},
          "axis": {"title": "power [GW]", "values": [0, 20, 40, 60, 80, 100, 120, 140, 160], "titleY": 278.5}
        },
        "color": {
          "field": "s",
          "type": "nominal",
          "scale": {"domain": ["h", "g", "f", "e", "d", "c", "b", "a"], "range": ["#dcf6a6", "#ff0000", "#999999", "#ffff00", "#3b6182", "#5b82a5", "#ff99ff", "#008000"]},
          "legend": {
            "orient": "none", "legendX": 10, "legendY": 7,
            "labelExpr": "datum.label == 'a' ? 'hydroelectricity' : datum.label == 'b' ? 'load decrease' : datum.label == 'c' ? 'offshore wind' : datum.label == 'd' ? 'onshore wind' : datum.label == 'e' ? 'solar PV' : datum.label == 'f' ? 'battery discharger' : datum.label == 'g' ? 'hydrogen turbine' : 'pumped hydro discharger'"
          }
        },
        "order": {"field": "s", "type": "ordinal", "sort": "ascending"}
      }
    }
  ],
  "spacing": 116,
  "bounds": "flush",
  "resolve": {"scale": {"color": "independent", "x": "independent", "y": "independent"}, "legend": {"color": "independent"}},
  "config": {
    "font": "DejaVu Sans",
    "view": {"stroke": null},
    "axis": {
      "grid": false,
      "domain": false,
      "labelFont": "DejaVu Sans",
      "labelFontSize": 26.5,
      "labelColor": "#555555",
      "tickColor": "#555555",
      "tickWidth": 1.8,
      "tickSize": 9,
      "titleFont": "DejaVu Sans",
      "titleFontSize": 32,
      "titleFontWeight": "normal",
      "titleColor": "#555555"
    },
    "axisX": {"offset": 2, "labelPadding": 7, "labelLineHeight": 32, "labelAngle": 0, "labelFlush": false, "labelOverlap": false, "title": null},
    "axisY": {"offset": 3, "labelPadding": 8, "labelFlush": false, "labelOverlap": false, "titleAngle": 270, "titleX": -97, "titleAlign": "center", "titleBaseline": "middle"},
    "title": {"font": "DejaVu Sans", "fontSize": 39, "fontWeight": "normal", "color": "#000000", "anchor": "middle", "baseline": "alphabetic", "offset": 12},
    "legend": {
      "title": null,
      "padding": 8,
      "fillColor": "rgba(229,229,229,0.8)",
      "strokeColor": "rgba(204,204,204,0.8)",
      "cornerRadius": 5,
      "labelFont": "DejaVu Sans",
      "labelFontSize": 22,
      "labelColor": "#000000",
      "labelLimit": 0,
      "symbolType": "M-2.045,-0.727H2.045V0.727H-2.045Z",
      "symbolSize": 484,
      "symbolStrokeWidth": 0,
      "symbolOpacity": 1,
      "symbolOffset": 11.5,
      "labelOffset": 30,
      "rowPadding": 12
    }
  }
}
